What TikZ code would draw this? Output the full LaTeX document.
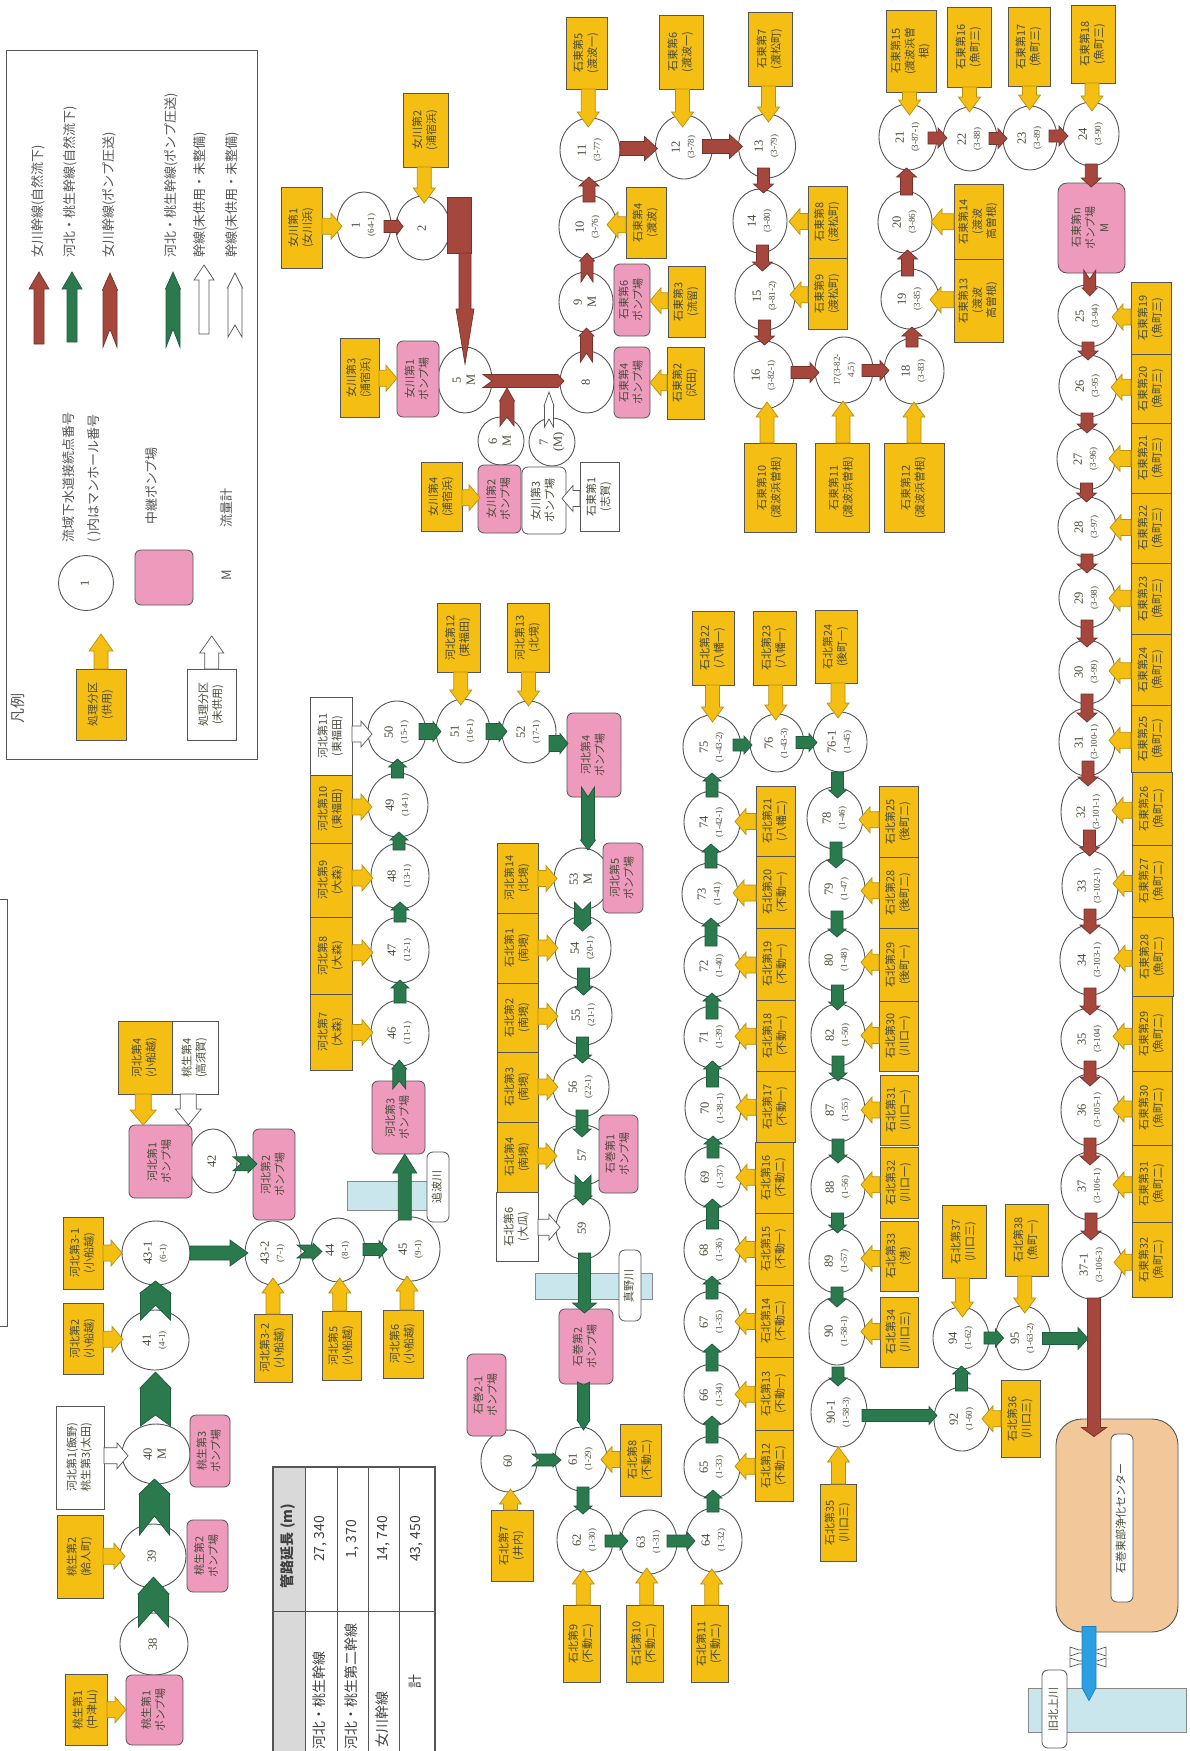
\documentclass[tikz,border=0pt]{standalone}
\usepackage{fontspec}
\setmainfont{Noto Sans CJK JP}
\newfontfamily\nf{Liberation Serif}
\usetikzlibrary{calc,shapes.geometric}
\definecolor{yelC}{HTML}{F4BF12}
\definecolor{pnkC}{HTML}{EE9ABD}
\definecolor{brnC}{HTML}{A5473C}
\definecolor{grnC}{HTML}{2A7A4E}
\definecolor{pltC}{HTML}{F2C89A}
\definecolor{rivC}{HTML}{C8E6EC}
\definecolor{bluC}{HTML}{2C9FE2}
\definecolor{lnC}{HTML}{555555}
\definecolor{txC}{HTML}{4A4A3A}
\newcommand\Rt[1]{\rotatebox{90}{\begin{tabular}{@{}c@{}}#1\end{tabular}}}
\newcommand\Sm[1]{{\fontsize{9}{10}\selectfont #1}}
\tikzset{
  flw/.store in=\flw, flW/.store in=\flW, flL/.store in=\flL, fln/.store in=\fln,
  flc/.store in=\flc, flo/.store in=\flo, fls/.store in=\fls,
  kbr/.style={flc=brnC,flo=brnC!70!black,flw=6pt,flW=10pt,flL=9pt,fln=0pt,fls=0pt},
  kbp/.style={kbr,flW=7.5pt,flL=8pt,fln=9pt},
  kgr/.style={flc=grnC,flo=grnC!75!black,flw=6pt,flW=9pt,flL=8pt,fln=0pt,fls=0pt},
  kgp/.style={kgr,flw=6.5pt,flW=8.5pt,flL=9pt,fln=8pt},
  kgb/.style={kgr,flw=15pt,flW=15.5pt,flL=16pt,fln=15pt},
  kyt/.style={flc=yelC,flo=yelC!75!black,flw=7pt,flW=11pt,flL=15pt,fln=0pt,fls=0pt},
  kys/.style={kyt,flw=8pt,flW=13pt,flL=11pt},
  kwt/.style={flc=white,flo=lnC,flw=7pt,flW=12pt,flL=16pt,fln=0pt,fls=0pt},
  kws/.style={kwt,flw=8pt,flW=13pt,flL=11pt},
  kwp/.style={kwt,flw=4.5pt,flW=5pt,flL=14pt,fln=8pt},
  kbl/.style={flc=bluC,flo=bluC!80!black,flw=7pt,flW=7pt,flL=13pt,fln=0pt,fls=0pt},
  cir/.style={ellipse,draw=lnC,fill=white,line width=.9pt,inner sep=0pt,outer sep=0pt,text=txC,font=\nf\fontsize{12.5}{14}\selectfont},
  ybx/.style={rectangle,draw=lnC,fill=yelC,line width=.8pt,inner sep=0pt,outer sep=0pt,text=txC,font=\fontsize{11}{14}\selectfont},
  wbx/.style={ybx,fill=white},
  pbx/.style={ybx,fill=pnkC,rounded corners=6pt},
  wrb/.style={ybx,fill=white,rounded corners=6pt},
  rvr/.style={rectangle,draw=lnC!70,fill=rivC,line width=.8pt,inner sep=0pt},
  plt/.style={rectangle,draw=lnC,fill=pltC,rounded corners=26pt,line width=.9pt,inner sep=0pt},
  lbl/.style={inner sep=0pt,text=lnC,font=\fontsize{13}{15}\selectfont},
  tbl/.style={inner sep=0pt,text=black!75,font=\fontsize{14}{17}\selectfont},
  pt/.style={inner sep=0pt,outer sep=0pt,minimum size=0pt},
  bar/.style={rectangle,fill=brnC,draw=brnC!70!black,inner sep=0pt,outer sep=0pt},
}
\newcommand\Bx[7]{\pgfmathsetmacro\bxW{#5-#3}\pgfmathsetmacro\bxH{#6-#4}%
  \node[#1,minimum width=\bxW pt,minimum height=\bxH pt] (#2) at ({(#3+#5)/2},{(#4+#6)/2}) {\Rt{#7}};}
\newcommand\Cn[6]{\node[cir,minimum width=#4*2pt,minimum height=#5*2pt] (#1) at (#2,#3) {\Rt{#6}};}
\newcommand\flptD[4]{\coordinate (fa) at ($(fm |- #1.south)+(0pt,#3pt)$);\coordinate (fb) at ($(fm |- #2.north)+(0pt,-#4pt)$);}
\newcommand\flptU[4]{\coordinate (fa) at ($(fm |- #1.north)+(0pt,-#3pt)$);\coordinate (fb) at ($(fm |- #2.south)+(0pt,#4pt)$);}
\newcommand\flptR[4]{\coordinate (fa) at ($(#1.east |- fm)+(-#3pt,0pt)$);\coordinate (fb) at ($(#2.west |- fm)+(#4pt,0pt)$);}
\newcommand\flptL[4]{\coordinate (fa) at ($(#1.west |- fm)+(#3pt,0pt)$);\coordinate (fb) at ($(#2.east |- fm)+(-#4pt,0pt)$);}
\newcommand\Fl[6]{\begingroup\tikzset{#2}%
  \coordinate (fm) at ($(#3.center)!.5!(#4.center)+(\fls,\fls)$);%
  \csname flpt#1\endcsname{#3}{#4}{#5}{#6}%
  \coordinate (fc) at ($(fb)!\flL!(fa)$);%
  \coordinate (fn) at ($(fa)!\fln!(fb)$);%
  \draw[draw=\flo,fill=\flc,line width=.7pt,line join=miter]
    ($(fa)!\flw!90:(fb)$) -- ($(fc)!\flw!90:(fb)$) -- ($(fc)!\flW!90:(fb)$) -- (fb)
    -- ($(fc)!\flW!-90:(fb)$) -- ($(fc)!\flw!-90:(fb)$) -- ($(fa)!\flw!-90:(fb)$) -- (fn) -- cycle;%
  \endgroup}
\begin{document}
\begin{tikzpicture}[x=1pt,y=-1pt]
\useasboundingbox (0,0) rectangle (1189,1751);
\fill[white] (0,0) rectangle (1189,1751);
% ---------- legend
\draw[lnC,line width=.9pt] (6,50) rectangle (257,759);
\draw[lnC,line width=.9pt] (0,899) -- (7,899) -- (7,1326) -- (0,1326);
\foreach \n/\x/\ya/\yb in {la/39/344/272,lb/72/342/272,lc/110/347/273,ld/173/347/272,le/204/334/265,lf/235/337/273}{
  \node[pt] (\n0) at (\x,\ya) {}; \node[pt] (\n1) at (\x,\yb) {};}
\Fl{U}{kbr,flw=5pt,flL=17pt}{la0}{la1}{0}{0}
\Fl{U}{kgr,flw=5pt,flW=10pt,flL=17pt}{lb0}{lb1}{0}{0}
\Fl{U}{kbp,flw=7pt,flW=7.5pt,flL=17pt,fln=18pt}{lc0}{lc1}{0}{0}
\Fl{U}{kgp,flw=7pt,flW=7.5pt,flL=17pt,fln=18pt}{ld0}{ld1}{0}{0}
\Fl{U}{kwt,flw=5pt,flW=10pt,flL=15pt}{le0}{le1}{0}{0}
\Fl{U}{kwt,flw=7pt,flW=7.5pt,flL=15pt,fln=12pt}{lf0}{lf1}{0}{0}
\node[lbl,anchor=south] (lt1) at (39,258) {\Rt{女川幹線(自然流下)}};
\node[lbl,anchor=south] (lt2) at (71,258) {\Rt{河北・桃生幹線(自然流下)}};
\node[lbl,anchor=south] (lt3) at (110,258) {\Rt{女川幹線(ポンプ圧送)}};
\node[lbl,anchor=south] (lt4) at (172,258) {\Rt{河北・桃生幹線(ポンプ圧送)}};
\node[lbl,anchor=south] (lt5) at (201,258) {\Rt{幹線(未供用・未整備)}};
\node[lbl,anchor=south] (lt6) at (233,258) {\Rt{幹線(未供用・未整備)}};
\Cn{lgc}{86}{583}{27.5}{27.5}{1}
\Bx{pbx}{lgp}{135}{550}{193}{605}{}
\node[lbl,anchor=south] (lt7) at (70,543) {\Rt{流域下水道接続点番号}};
\node[lbl,anchor=south] (lt8) at (95,543) {\Rt{( )内はマンホール番号}};
\node[lbl,anchor=south] (lt9) at (153,525) {\Rt{中継ポンプ場}};
\node[lbl,anchor=south] (lt10) at (228,528) {\Rt{流量計}};
\node[lbl] (lt11) at (228,575) {\Rt{M}};
\node[lbl,font=\fontsize{15}{18}\selectfont] (lt12) at (20,708) {\Rt{凡例}};
\Bx{ybx}{lgy}{76}{669}{126}{740}{処理分区\\(供用)}
\Bx{wbx}{lgw}{187}{669}{236}{740}{処理分区\\(未供用)}
\node[pt] (lgya) at (101,634) {}; \node[pt] (lgwa) at (212,636) {};
\Fl{U}{kyt,flL=17pt,flW=12pt}{lgy}{lgya}{0}{0}
\Fl{U}{kwt,flL=17pt}{lgw}{lgwa}{0}{0}
% ---------- table
\fill[black!15] (273,1467) rectangle (305,1751);
\draw[lnC,line width=1.3pt] (273,1751) -- (273,1467) -- (435,1467) -- (435,1751);
\draw[lnC,line width=.8pt] (305,1467) -- (305,1751) (337,1467) -- (337,1751) (368,1467) -- (368,1751) (399,1467) -- (399,1751) (273,1611) -- (435,1611);
\node[tbl] (tb1) at (289,1546) {\Rt{\bfseries 管路延長 (m)}};
\node[tbl] (tb2) at (321,1539) {\Rt{27, 340}};
\node[tbl] (tb3) at (353,1539) {\Rt{1, 370}};
\node[tbl] (tb4) at (384,1539) {\Rt{14, 740}};
\node[tbl] (tb5) at (417,1539) {\Rt{43, 450}};
\node[tbl,anchor=south] (tb6) at (321,1750) {\Rt{河北・桃生幹線}};
\node[tbl,anchor=south] (tb7) at (353,1750) {\Rt{河北・桃生第二幹線}};
\node[tbl,anchor=south] (tb8) at (384,1748) {\Rt{女川幹線}};
\node[tbl] (tb9) at (417,1681) {\Rt{計}};
% ---------- rivers, plant
\Bx{rvr}{r1}{347}{1181}{427}{1210}{}
\Bx{rvr}{r2}{535}{1273}{652}{1299}{}
\Bx{rvr}{r3}{1028}{1688}{1186}{1732}{}
\Bx{plt}{plant}{1056}{1419}{1178}{1632}{}
\Bx{wrb}{plantl}{1111}{1434}{1133}{1602}{石巻東部浄化センター}
% ---------- circles
\Cn{n1}{364}{225}{27}{33}{1\\\Sm{(64-1)}}
\Cn{n2}{423}{228}{27}{32}{2}
\Cn{n5}{465}{380}{27}{33}{5\\M}
\Cn{n6}{501}{441}{23}{24}{6\\M}
\Cn{n7}{552}{442}{23}{24}{7\\(M)}
\Cn{n8}{587}{382}{27}{31}{8}
\Cn{n9}{586}{302}{27}{30}{9\\M}
\Cn{n10}{588}{227}{29}{32}{10\\\Sm{(3-76)}}
\Cn{n11}{590}{150}{30}{32}{11\\\Sm{(3-77)}}
\Cn{n12}{684}{147}{28.5}{32}{12\\\Sm{(3-78)}}
\Cn{n13}{767}{146}{28.5}{32}{13\\\Sm{(3-79)}}
\Cn{n14}{760}{221}{27}{32}{14\\\Sm{(3-80)}}
\Cn{n15}{765}{296}{30}{34}{15\\\Sm{(3-81-2)}}
\Cn{n16}{764}{375}{30}{34}{16\\\Sm{(3-82-1)}}
\Cn{n17}{844}{370}{29}{33}{\Sm{17(3-82-}\\\Sm{4,5)}}
\Cn{n18}{914}{371}{30}{33}{18\\\Sm{(3-83)}}
\Cn{n19}{910}{299}{29}{30}{19\\\Sm{(3-85)}}
\Cn{n20}{905}{222}{27}{31}{20\\\Sm{(3-86)}}
\Cn{n21}{908}{137}{29}{33}{21\\\Sm{(3-87-1)}}
\Cn{n22}{970}{139}{27}{32}{22\\\Sm{(3-88)}}
\Cn{n23}{1030}{138}{27}{32}{23\\\Sm{(3-89)}}
\Cn{n24}{1091}{134}{28}{32}{24\\\Sm{(3-90)}}
\Cn{n25}{1088}{316}{30}{31}{25\\\Sm{(3-94)}}
\Cn{n26}{1088}{386}{29}{31}{26\\\Sm{(3-95)}}
\Cn{n27}{1086}{459}{29}{31}{27\\\Sm{(3-96)}}
\Cn{n28}{1087}{527}{29}{30}{28\\\Sm{(3-97)}}
\Cn{n29}{1087}{598}{28}{30}{29\\\Sm{(3-98)}}
\Cn{n30}{1087}{672}{28}{32}{30\\\Sm{(3-99)}}
\Cn{n31}{1087}{742}{28}{34}{31\\\Sm{(3-100-1)}}
\Cn{n32}{1089}{812}{28}{36}{32\\\Sm{(3-101-1)}}
\Cn{n33}{1090}{886}{28}{35}{33\\\Sm{(3-102-1)}}
\Cn{n34}{1090}{960}{30}{35}{34\\\Sm{(3-103-1)}}
\Cn{n35}{1090}{1039}{29}{31}{35\\\Sm{(3-104)}}
\Cn{n36}{1090}{1110}{29}{36}{36\\\Sm{(3-105-1)}}
\Cn{n37}{1090}{1186}{29}{34}{37\\\Sm{(3-106-1)}}
\Cn{n37a}{1092}{1265}{30}{34}{37-1\\\Sm{(3-106-3)}}
\Cn{n38}{154}{1644}{34}{31}{38}
\Cn{n39}{153}{1556}{33}{32}{39}
\Cn{n40}{156}{1454}{34}{30}{40\\M}
\Cn{n41}{155}{1340}{34}{30}{41\\\Sm{(4-1)}}
\Cn{n42}{213}{1161}{24}{32}{42}
\Cn{n43a}{156}{1253}{34}{32}{43-1\\\Sm{(6-1)}}
\Cn{n43b}{273}{1253}{28}{32}{43-2\\\Sm{(7-1)}}
\Cn{n44}{338}{1250}{27}{32}{44\\\Sm{(8-1)}}
\Cn{n45}{411}{1249}{29}{32}{45\\\Sm{(9-1)}}
\Cn{n46}{400}{1033}{29}{33}{46\\\Sm{(11-1)}}
\Cn{n47}{400}{950}{29}{33}{47\\\Sm{(12-1)}}
\Cn{n48}{400}{876}{29}{33}{48\\\Sm{(13-1)}}
\Cn{n49}{398}{805}{30}{32}{49\\\Sm{(14-1)}}
\Cn{n50}{397}{732}{29}{31}{50\\\Sm{(15-1)}}
\Cn{n51}{463}{731}{27}{32}{51\\\Sm{(16-1)}}
\Cn{n52}{529}{732}{27}{31}{52\\\Sm{(17-1)}}
\Cn{n53}{582}{879}{28}{31}{53\\M}
\Cn{n54}{583}{948}{28}{32}{54\\\Sm{(20-1)}}
\Cn{n55}{584}{1015}{28}{30}{55\\\Sm{(21-1)}}
\Cn{n56}{581}{1087}{28}{30}{56\\\Sm{(22-1)}}
\Cn{n57}{583}{1155}{29}{30}{57}
\Cn{n59}{583}{1228}{27}{31}{59}
\Cn{n60}{509}{1461}{28}{31}{60}
\Cn{n61}{581}{1459}{26}{32}{61\\\Sm{(1-29)}}
\Cn{n62}{585}{1540}{28}{32}{62\\\Sm{(1-30)}}
\Cn{n63}{649}{1542}{28}{32}{63\\\Sm{(1-31)}}
\Cn{n64}{714}{1540}{28}{32}{64\\\Sm{(1-32)}}
\Cn{n65}{712}{1467}{28}{31}{65\\\Sm{(1-33)}}
\Cn{n66}{712}{1395}{28}{31}{66\\\Sm{(1-34)}}
\Cn{n67}{712}{1322}{28}{31}{67\\\Sm{(1-35)}}
\Cn{n68}{712}{1250}{28}{31}{68\\\Sm{(1-36)}}
\Cn{n69}{713}{1177}{28}{31}{69\\\Sm{(1-37)}}
\Cn{n70}{713}{1108}{28}{32}{70\\\Sm{(1-38-1)}}
\Cn{n71}{712}{1037}{28}{31}{71\\\Sm{(1-39)}}
\Cn{n72}{712}{966}{28}{31}{72\\\Sm{(1-40)}}
\Cn{n73}{710}{894}{28}{31}{73\\\Sm{(1-41)}}
\Cn{n74}{712}{822}{28}{31}{74\\\Sm{(1-42-1)}}
\Cn{n75}{712}{747}{29}{32}{75\\\Sm{(1-43-2)}}
\Cn{n76}{777}{743}{27}{29}{76\\\Sm{(1-43-3)}}
\Cn{n76a}{840}{742}{27}{30}{76-1\\\Sm{(1-45)}}
\Cn{n78}{835}{818}{28}{31}{78\\\Sm{(1-46)}}
\Cn{n79}{837}{889}{28}{31}{79\\\Sm{(1-47)}}
\Cn{n80}{837}{960}{28}{31}{80\\\Sm{(1-48)}}
\Cn{n82}{838}{1035}{27}{31}{82\\\Sm{(1-50)}}
\Cn{n87}{838}{1110}{27}{32}{87\\\Sm{(1-55)}}
\Cn{n88}{838}{1187}{27}{32}{88\\\Sm{(1-56)}}
\Cn{n89}{837}{1261}{28}{32}{89\\\Sm{(1-57)}}
\Cn{n90}{837}{1331}{28}{34}{90\\\Sm{(1-58-1)}}
\Cn{n90a}{839}{1412}{28}{35}{90-1\\\Sm{(1-58-3)}}
\Cn{n92}{962}{1419}{28}{32}{92\\\Sm{(1-60)}}
\Cn{n94}{961}{1338}{28}{31}{94\\\Sm{(1-62)}}
\Cn{n95}{1023}{1338}{27.5}{32}{95\\\Sm{(1-63-2)}}
% ---------- pump stations
\Bx{pbx}{pO1}{397}{341}{439}{417}{女川第1\\ポンプ場}
\Bx{pbx}{pO2}{478}{465}{521}{533}{女川第2\\ポンプ場}
\Bx{wrb}{pO3}{522}{467}{566}{534}{女川第3\\ポンプ場}
\Bx{pbx}{pE6}{614}{264}{650}{336}{石東第6\\ポンプ場}
\Bx{pbx}{pE4}{614}{347}{650}{418}{石東第4\\ポンプ場}
\Bx{pbx,rounded corners=9pt}{pEn}{1058}{183}{1125}{273}{石東第n\\ポンプ場\\M}
\Bx{pbx}{pT1}{126}{1675}{183}{1745}{桃生第1\\ポンプ場}
\Bx{pbx}{pT2}{187}{1520}{228}{1592}{桃生第2\\ポンプ場}
\Bx{pbx}{pT3}{190}{1415}{230}{1487}{桃生第3\\ポンプ場}
\Bx{pbx}{pK1}{129}{1125}{192}{1198}{河北第1\\ポンプ場}
\Bx{pbx}{pK2}{253}{1129}{295}{1220}{河北第2\\ポンプ場}
\Bx{pbx}{pK3}{372}{1081}{425}{1154}{河北第3\\ポンプ場}
\Bx{pbx}{pK4}{567}{713}{621}{797}{河北第4\\ポンプ場}
\Bx{pbx}{pK5}{603}{843}{643}{913}{河北第5\\ポンプ場}
\Bx{pbx}{pI1}{599}{1115}{638}{1193}{石巻第1\\ポンプ場}
\Bx{pbx}{pI2}{559}{1309}{613}{1384}{石巻第2\\ポンプ場}
\Bx{pbx}{pI21}{467}{1354}{506}{1436}{石巻2-1\\ポンプ場}
% ---------- river labels
\Bx{wrb}{rl1}{427}{1152}{449}{1222}{追波川}
\Bx{wrb}{rl2}{619}{1250}{641}{1321}{真野川}
\Bx{wrb}{rl3}{1042}{1670}{1067}{1748}{旧北上川}
% ---------- district boxes
\Bx{ybx}{O1}{281}{187}{322}{268}{女川第1\\(女川浜)}
\Bx{ybx}{O2}{403}{93}{448}{167}{女川第2\\(浦宿浜)}
\Bx{ybx}{O3}{340}{338}{379}{417}{女川第3\\(浦宿浜)}
\Bx{ybx}{O4}{421}{462}{462}{531}{女川第4\\(浦宿浜)}
\Bx{wbx}{E1}{580}{462}{619}{531}{石東第1\\(志賀)}
\Bx{ybx}{E2}{667}{347}{704}{419}{石東第2\\(沢田)}
\Bx{ybx}{E3}{668}{266}{705}{337}{石東第3\\(流留)}
\Bx{ybx}{E4}{626}{187}{666}{258}{石東第4\\(渡波)}
\Bx{ybx}{E5}{566}{17}{607}{89}{石東第5\\(渡波一)}
\Bx{ybx}{E6}{659}{15}{703}{89}{石東第6\\(渡波一)}
\Bx{ybx}{E7}{748}{12}{792}{86}{石東第7\\(渡松町)}
\Bx{ybx}{E8}{808}{186}{847}{258}{石東第8\\(渡松町)}
\Bx{ybx}{E9}{808}{258}{847}{329}{石東第9\\(渡松町)}
\Bx{ybx}{E10}{744}{443}{796}{532}{石東第10\\(渡波浜曽根)}
\Bx{ybx}{E11}{815}{443}{869}{532}{石東第11\\(渡波浜曽根)}
\Bx{ybx}{E12}{884}{443}{944}{532}{石東第12\\(渡波浜曽根)}
\Bx{ybx}{E13}{954}{259}{1003}{342}{石東第13\\(渡波\\高曽根)}
\Bx{ybx}{E14}{954}{184}{1003}{259}{石東第14\\(渡波\\高曽根)}
\Bx{ybx}{E15}{886}{10}{936}{92}{石東第15\\(渡波浜曽\\根)}
\Bx{ybx}{E16}{947}{7}{991}{87}{石東第16\\(魚町三)}
\Bx{ybx}{E17}{1008}{7}{1050}{86}{石東第17\\(魚町三)}
\Bx{ybx}{E18}{1071}{5}{1115}{83}{石東第18\\(魚町三)}
\Bx{ybx}{E19}{1131}{282}{1171}{354}{石東第19\\(魚町三)}
\Bx{ybx}{E20}{1131}{354}{1171}{423}{石東第20\\(魚町三)}
\Bx{ybx}{E21}{1131}{423}{1171}{493}{石東第21\\(魚町三)}
\Bx{ybx}{E22}{1131}{493}{1171}{563}{石東第22\\(魚町三)}
\Bx{ybx}{E23}{1131}{563}{1171}{634}{石東第23\\(魚町三)}
\Bx{ybx}{E24}{1131}{634}{1171}{705}{石東第24\\(魚町三)}
\Bx{ybx}{E25}{1131}{705}{1171}{772}{石東第25\\(魚町二)}
\Bx{ybx}{E26}{1132}{772}{1172}{845}{石東第26\\(魚町二)}
\Bx{ybx}{E27}{1132}{845}{1172}{917}{石東第27\\(魚町二)}
\Bx{ybx}{E28}{1132}{917}{1173}{996}{石東第28\\(魚町二)}
\Bx{ybx}{E29}{1132}{996}{1172}{1071}{石東第29\\(魚町二)}
\Bx{ybx}{E30}{1132}{1071}{1172}{1145}{石東第30\\(魚町二)}
\Bx{ybx}{E31}{1132}{1145}{1172}{1222}{石東第31\\(魚町二)}
\Bx{ybx}{E32}{1132}{1222}{1172}{1297}{石東第32\\(魚町二)}
\Bx{ybx}{T1}{65}{1674}{107}{1745}{桃生第1\\(中津山)}
\Bx{ybx}{T2}{57}{1515}{103}{1598}{桃生第2\\(給人町)}
\Bx{wbx}{T3}{56}{1406}{104}{1509}{河北第1(飯野)\\桃生第3(太田)}
\Bx{wbx}{T4}{172}{1021}{218}{1094}{桃生第4\\(高須賀)}
\Bx{ybx}{K4}{118}{1021}{172}{1094}{河北第4\\(小船越)}
\Bx{ybx}{K2}{63}{1303}{103}{1374}{河北第2\\(小船越)}
\Bx{ybx}{K31}{63}{1217}{103}{1289}{河北第3-1\\(小船越)}
\Bx{ybx}{K32}{254}{1314}{292}{1382}{河北第3-2\\(小船越)}
\Bx{ybx}{K5}{322}{1311}{361}{1380}{河北第5\\(小船越)}
\Bx{ybx}{K6}{383}{1310}{423}{1378}{河北第6\\(小船越)}
\Bx{ybx}{K7}{310}{994}{352}{1070}{河北第7\\(大森)}
\Bx{ybx}{K8}{310}{917}{352}{994}{河北第8\\(大森)}
\Bx{ybx}{K9}{310}{843}{352}{917}{河北第9\\(大森)}
\Bx{ybx}{K10}{310}{775}{352}{843}{河北第10\\(東福田)}
\Bx{wbx}{K11}{310}{697}{352}{775}{河北第11\\(東福田)}
\Bx{ybx}{K12}{437}{603}{480}{672}{河北第12\\(東福田)}
\Bx{ybx}{K13}{507}{603}{549}{672}{河北第13\\(北境)}
\Bx{ybx}{K14}{497}{843}{538}{913}{河北第14\\(北境)}
\Bx{ybx}{N1}{497}{913}{538}{983}{石北第1\\(南境)}
\Bx{ybx}{N2}{497}{983}{538}{1052}{石北第2\\(南境)}
\Bx{ybx}{N3}{497}{1052}{538}{1122}{石北第3\\(南境)}
\Bx{ybx}{N4}{497}{1122}{538}{1192}{石北第4\\(南境)}
\Bx{wbx}{N6}{496}{1192}{538}{1261}{石北第6\\(大瓜)}
\Bx{ybx}{N7}{491}{1510}{533}{1581}{石北第7\\(井内)}
\Bx{ybx}{N8}{620}{1424}{661}{1496}{石北第8\\(不動二)}
\Bx{ybx}{N9}{563}{1605}{600}{1682}{石北第9\\(不動二)}
\Bx{ybx}{N10}{626}{1605}{663}{1682}{石北第10\\(不動二)}
\Bx{ybx}{N11}{691}{1605}{728}{1682}{石北第11\\(不動二)}
\Bx{ybx}{N12}{755}{1430}{793}{1501}{石北第12\\(不動二)}
\Bx{ybx}{N13}{755}{1357}{793}{1430}{石北第13\\(不動一)}
\Bx{ybx}{N14}{755}{1285}{793}{1357}{石北第14\\(不動二)}
\Bx{ybx}{N15}{755}{1213}{793}{1285}{石北第15\\(不動一)}
\Bx{ybx}{N16}{755}{1142}{793}{1213}{石北第16\\(不動二)}
\Bx{ybx}{N17}{756}{1071}{795}{1142}{石北第17\\(不動一)}
\Bx{ybx}{N18}{756}{1000}{795}{1071}{石北第18\\(不動一)}
\Bx{ybx}{N19}{756}{928}{795}{1000}{石北第19\\(不動一)}
\Bx{ybx}{N20}{756}{856}{795}{928}{石北第20\\(不動一)}
\Bx{ybx}{N21}{756}{786}{795}{856}{石北第21\\(八幡二)}
\Bx{ybx}{N22}{692}{611}{734}{685}{石北第22\\(八幡一)}
\Bx{ybx}{N23}{753}{611}{796}{685}{石北第23\\(八幡一)}
\Bx{ybx}{N24}{815}{610}{857}{683}{石北第24\\(後町一)}
\Bx{ybx}{N25}{879}{786}{918}{857}{石北第25\\(後町二)}
\Bx{ybx}{N28}{879}{857}{918}{928}{石北第28\\(後町二)}
\Bx{ybx}{N29}{879}{928}{918}{1001}{石北第29\\(後町一)}
\Bx{ybx}{N30}{879}{1001}{918}{1071}{石北第30\\(川口一)}
\Bx{ybx}{N31}{880}{1075}{918}{1145}{石北第31\\(川口一)}
\Bx{ybx}{N32}{880}{1147}{918}{1218}{石北第32\\(川口一)}
\Bx{ybx}{N33}{880}{1221}{918}{1291}{石北第33\\(港)}
\Bx{ybx}{N34}{880}{1297}{918}{1367}{石北第34\\(川口三)}
\Bx{ybx}{N35}{820}{1484}{856}{1561}{石北第35\\(川口三)}
\Bx{ybx}{N36}{1001}{1380}{1040}{1457}{石北第36\\(川口三)}
\Bx{ybx}{N37}{942}{1205}{986}{1278}{石北第37\\(川口三)}
\Bx{ybx}{N38}{1005}{1204}{1048}{1276}{石北第38\\(魚町一)}
% ---------- bridge marks
\draw[lnC,fill=white,line width=.7pt] (1070,1647) -- (1079,1650) -- (1097,1650) -- (1106,1647) -- (1106,1656) -- (1097,1653) -- (1079,1653) -- (1070,1656) -- cycle;
\draw[lnC,fill=white,line width=.7pt] (1070,1658) -- (1079,1661) -- (1097,1661) -- (1106,1658) -- (1106,1667) -- (1097,1664) -- (1079,1664) -- (1070,1667) -- cycle;
% ---------- yellow/white inflow arrows
\foreach \a/\b/\s in {E5/n11/9,E6/n12/12,E7/n13/8,E15/n21/11,E16/n22/5,E17/n23/4,E18/n24/9,O2/n2/7,K12/n51/6,K13/n52/5,N22/n75/7,N23/n76/6,N24/n76a/6,N37/n94/10,N38/n95/7}{\Fl{D}{kyt}{\a}{\b}{0}{\s}}
\foreach \a/\b/\s in {E10/n16/7,E11/n17/2,E12/n18/2,K32/n43b/7,K5/n44/4,K6/n45/5,N7/n60/3,N9/n62/3,N10/n63/6,N11/n64/3,N35/n90a/0}{\Fl{U}{kyt}{\a}{\b}{0}{\s}}
\foreach \a/\b/\s in {O1/n1/5,O3/pO1/0,O4/pO2/2,K7/n46/2,K8/n47/2,K9/n48/2,K10/n49/4,K14/n53/3,N1/n54/3,N2/n55/2,N3/n56/5,N4/n57/3,T1/pT1/0,T2/n39/5,K2/n41/2,K31/n43a/0}{\Fl{R}{kys}{\a}{\b}{0}{\s}}
\foreach \a/\b/\s in {E2/pE4/0,E3/pE6/0,E4/n10/10,E8/n14/-2,E9/n15/5,E14/n20/1,E13/n19/9,N8/n61/6,N36/n92/8,E19/n25/6,E20/n26/6,E21/n27/6,E22/n28/6,E23/n29/6,E24/n30/6,E25/n31/6,E26/n32/5,E27/n33/5,E28/n34/6,E29/n35/6,E30/n36/6,E31/n37/6,E32/n37a/8,N12/n65/5,N13/n66/5,N14/n67/5,N15/n68/5,N16/n69/5,N17/n70/5,N18/n71/5,N19/n72/5,N20/n73/5,N21/n74/5,N25/n78/4,N28/n79/4,N29/n80/4,N30/n82/4,N31/n87/4,N32/n88/4,N33/n89/4,N34/n90/4}{\Fl{L}{kys}{\a}{\b}{0}{\s}}
\foreach \a/\b/\s in {K11/n50/4,N6/n59/4,T3/n40/6}{\Fl{R}{kws}{\a}{\b}{0}{\s}}
\Fl{L}{kws}{E1}{pO3}{0}{4}
\Fl{D}{kyt,flw=8pt,flW=13pt,fls=-9.5pt}{K4}{pK1}{0}{0}
\Fl{D}{kwt,flw=8pt,flW=13pt,fls=10.5pt}{T4}{pK1}{0}{0}
% ---------- brown trunk
\node[bar,minimum width=24pt,minimum height=56pt] (bend) at (459,225) {};
\node[pt,minimum width=12pt,minimum height=4pt] (bendb) at (465,251) {};
\Fl{D}{kbr,flW=9pt,flL=55pt}{bendb}{n5}{0}{17}
\Fl{R}{kbr,flW=8pt,flL=6pt}{n1}{n2}{7}{7}
\Fl{R}{kbp,flw=6.5pt,flW=6.5pt,flL=6pt}{n5}{n8}{9}{4}
\node[pt] (j6) at (507,388) {}; \node[pt] (j7) at (546,392) {};
\Fl{U}{kbp,flw=7pt,flL=13pt,fls=3pt}{n6}{j6}{9}{0}
\Fl{U}{kwp}{n7}{j7}{9}{0}
\Fl{U}{kbp}{n8}{n9}{11}{4}
\Fl{U}{kbp}{n9}{n10}{10}{6}
\Fl{U}{kbr}{n10}{n11}{7}{5}
\Fl{R}{kbr,flw=7pt,flW=12pt,flL=13pt}{n11}{n12}{0}{2}
\Fl{R}{kbr,flw=7pt,flW=12pt,flL=13pt}{n12}{n13}{10}{4}
\foreach \a/\b/\p/\q in {n13/n14/10/4,n14/n15/8/9,n15/n16/10/4,n24/pEn/2/4,n25/n26/5/5,n26/n27/4/5,n27/n28/7/5,n28/n29/3/5,n29/n30/8/7,n30/n31/10/14,n31/n32/15/10,n32/n33/18/5,n33/n34/12/9,n34/n35/7/7,n35/n36/9/12,n36/n37/8/13,n37/n37a/7/9}{\Fl{D}{kbr}{\a}{\b}{\p}{\q}}
\Fl{D}{kbp}{pEn}{n25}{3}{11}
\foreach \a/\b/\p/\q in {n16/n17/3/4,n17/n18/11/5,n21/n22/9/4,n22/n23/8/4,n23/n24/8/5}{\Fl{R}{kbr}{\a}{\b}{\p}{\q}}
\foreach \a/\b/\p/\q in {n18/n19/9/2,n19/n20/7/3,n20/n21/4/2}{\Fl{U}{kbr}{\a}{\b}{\p}{\q}}
\Fl{D}{kbr,flw=6.5pt,flW=12.5pt,flL=9pt,fls=-10.5pt}{n37a}{plant}{1}{18}
\Fl{D}{kbl,fls=-23pt}{plant}{r3}{6}{13}
% ---------- green trunk
\Fl{U}{kgb,fln=17pt,flL=17pt}{n38}{n39}{14}{11}
\Fl{U}{kgb,fln=19pt,flL=15pt}{n39}{n40}{11}{5}
\Fl{U}{kgb,fln=11pt}{n40}{n41}{2}{-2}
\Fl{U}{kgb,fln=15pt,flL=12pt}{n41}{n43a}{10}{4}
\Fl{R}{kgr,flw=7pt,flW=13pt,flL=18pt}{n43a}{n43b}{0}{3}
\Fl{R}{kgp}{n43b}{n44}{4}{11}
\Fl{R}{kgr}{n44}{n45}{2}{5}
\Fl{R}{kgp,flw=7pt,flW=9pt,fls=4pt}{n42}{pK2}{4}{4}
\Fl{U}{kgr,flw=6.5pt,flW=12pt,flL=19pt}{n45}{pK3}{3}{0}
\Fl{U}{kgp,flW=7.5pt}{pK3}{n46}{8}{6}
\foreach \a/\b/\p/\q in {n46/n47/3/3,n47/n48/5/7,n48/n49/7/5,n49/n50/5/4}{\Fl{U}{kgr}{\a}{\b}{\p}{\q}}
\Fl{R}{kgr,flw=8pt,flW=10pt}{n50}{n51}{7}{5}
\Fl{R}{kgr,flw=8pt,flW=10pt}{n51}{n52}{4}{5}
\Fl{R}{kgr,flw=8pt,flW=10pt}{n52}{pK4}{7}{1}
\Fl{D}{kgp,flW=7.5pt,flL=10pt,fln=10pt}{pK4}{n53}{10}{2}
\Fl{D}{kgp,flw=8pt,flW=9pt,flL=8pt}{n53}{n54}{8}{15}
\Fl{D}{kgr}{n54}{n55}{12}{10}
\Fl{D}{kgr}{n55}{n56}{8}{6}
\Fl{D}{kgr}{n56}{n57}{7}{12}
\Fl{D}{kgp,flw=8pt,flW=9pt}{n57}{n59}{10}{8}
\Fl{D}{kgr,flW=12pt,flL=10pt}{n59}{pI2}{6}{4}
\Fl{D}{kgp,flw=6pt,flW=6.5pt,flL=10pt,fln=3pt}{pI2}{n61}{2}{3}
\Fl{R}{kgp,flw=6pt,flW=7pt,flL=8pt}{n60}{n61}{5}{6}
\Fl{D}{kgr}{n61}{n62}{4}{6}
\Fl{R}{kgr}{n62}{n63}{8}{7}
\Fl{R}{kgr}{n63}{n64}{10}{9}
\foreach \a/\b/\p/\q in {n64/n65/4/8,n65/n66/7/10,n66/n67/7/9,n67/n68/8/5,n68/n69/10/9,n69/n70/12/4,n70/n71/11/7,n71/n72/13/4,n72/n73/11/7,n73/n74/5/9,n74/n75/6/6}{\Fl{U}{kgr}{\a}{\b}{\p}{\q}}
\Fl{R}{kgr}{n75}{n76}{8}{2}
\Fl{R}{kgr}{n76}{n76a}{8}{4}
\foreach \a/\b/\p/\q in {n76a/n78/0/11,n78/n79/7/10,n79/n80/9/8,n80/n82/6/6,n82/n87/10/3,n87/n88/3/8,n88/n89/6/4,n89/n90/6/10,n90/n90a/-2/9}{\Fl{D}{kgr}{\a}{\b}{\p}{\q}}
\Fl{R}{kgr}{n90a}{n92}{5}{3}
\Fl{U}{kgr}{n92}{n94}{4}{3}
\Fl{R}{kgr}{n94}{n95}{5}{8}
\node[pt] (trk) at (1088,1339) {};
\Fl{R}{kgr,flW=11pt,flL=10pt}{n95}{trk}{8}{0}
\end{tikzpicture}
\end{document}
